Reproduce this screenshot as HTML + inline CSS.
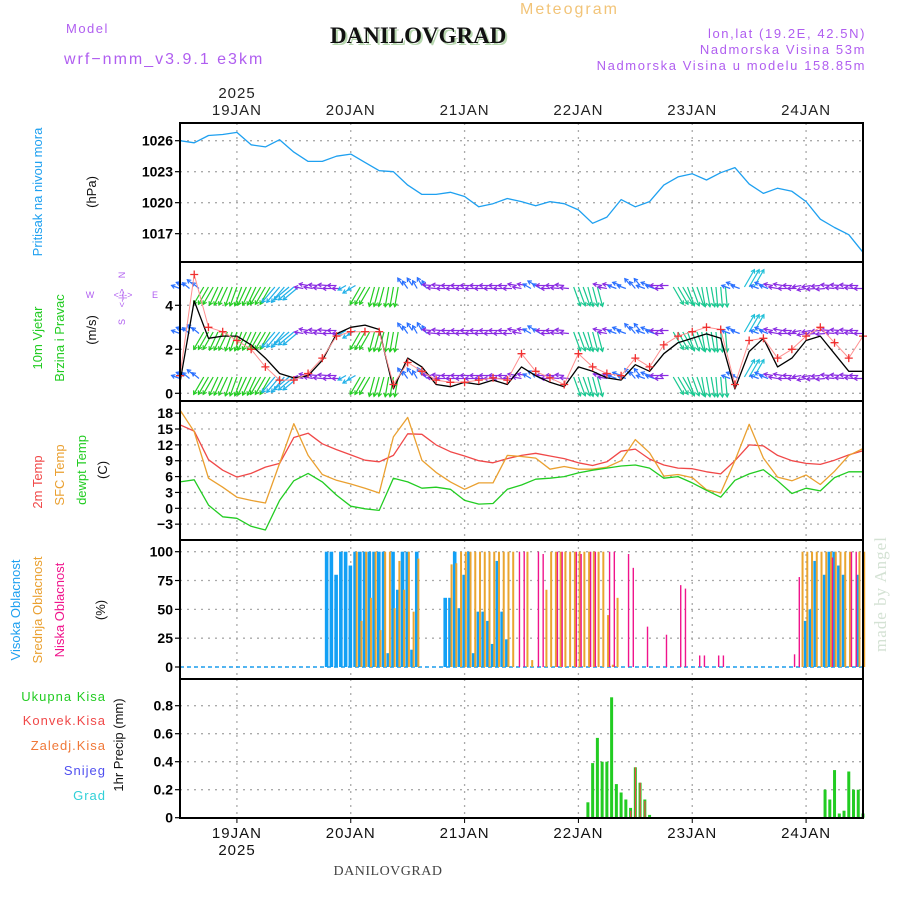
<!DOCTYPE html>
<html><head><meta charset="utf-8"><style>
body{margin:0;background:#fff}
svg text{font-family:"Liberation Sans",sans-serif}
</style></head><body>
<svg id="c" width="900" height="900" viewBox="0 0 900 900" xmlns="http://www.w3.org/2000/svg">
<rect width="900" height="900" fill="#fff"/>
<text x="66" y="33" font-size="13" fill="#b05ef0" letter-spacing="1.5">Model</text>
<text x="64" y="64" font-size="16" fill="#b05ef0" letter-spacing="2">wrf−nmm_v3.9.1 e3km</text>
<text x="332" y="45" style="font-family:'Liberation Serif',serif" font-weight="bold" font-size="23" fill="#b8d8b0">DANILOVGRAD</text>
<text x="330" y="43" style="font-family:'Liberation Serif',serif" font-weight="bold" font-size="23" fill="#111">DANILOVGRAD</text>
<text x="520" y="14" font-size="16" fill="#f2c478" letter-spacing="2">Meteogram</text>
<text x="866" y="38" font-size="13" fill="#b05ef0" text-anchor="end" letter-spacing="1.6">lon,lat (19.2E, 42.5N)</text>
<text x="866" y="54" font-size="13" fill="#b05ef0" text-anchor="end" letter-spacing="1.6">Nadmorska Visina 53m</text>
<text x="866" y="70" font-size="13" fill="#b05ef0" text-anchor="end" letter-spacing="1.6">Nadmorska Visina u modelu 158.85m</text>
<text x="237" y="98" font-size="15" fill="#222" text-anchor="middle" letter-spacing="1">2025</text>
<text x="237" y="855" font-size="15" fill="#111" text-anchor="middle" letter-spacing="1">2025</text>
<text x="388" y="875" style="font-family:'Liberation Serif',serif" font-size="14" fill="#444" text-anchor="middle" letter-spacing="0.5">DANILOVGRAD</text>
<text transform="translate(886,652) rotate(-90)" style="font-family:'Liberation Serif',serif" font-size="17" fill="#d4e2d4" letter-spacing="1">made by Angel</text>
<g font-size="13">
<text transform="translate(42,192) rotate(-90)" fill="#1ea0f0" text-anchor="middle">Pritisak na nivou mora</text>
<text transform="translate(96,192) rotate(-90)" fill="#111" text-anchor="middle">(hPa)</text>
<text transform="translate(42,338) rotate(-90)" fill="#22cc22" text-anchor="middle">10m Vjetar</text>
<text transform="translate(64,338) rotate(-90)" fill="#22cc22" text-anchor="middle">Brzina i Pravac</text>
<text transform="translate(96,330) rotate(-90)" fill="#111" text-anchor="middle">(m/s)</text>
<g fill="#b05ef0" font-size="9" text-anchor="middle">
<text transform="translate(125,275) rotate(-90)">N</text>
<text transform="translate(125,298) rotate(-90)">&lt;-|-&gt;</text>
<text transform="translate(125,322) rotate(-90)">S</text>
<text x="90" y="298">W</text><text x="155" y="298">E</text>
<text x="123" y="298">&lt;-|-&gt;</text>
</g>
<text transform="translate(42,482) rotate(-90)" fill="#f04848" text-anchor="middle">2m Temp</text>
<text transform="translate(64,475) rotate(-90)" fill="#eaa030" text-anchor="middle">SFC Temp</text>
<text transform="translate(86,470) rotate(-90)" fill="#22cc22" text-anchor="middle">dewpt Temp</text>
<text transform="translate(107,470) rotate(-90)" fill="#111" text-anchor="middle">(C)</text>
<text transform="translate(20,610) rotate(-90)" fill="#1ea0f0" text-anchor="middle">Visoka Oblacnost</text>
<text transform="translate(42,610) rotate(-90)" fill="#eaa030" text-anchor="middle">Srednja Oblacnost</text>
<text transform="translate(64,610) rotate(-90)" fill="#f0148c" text-anchor="middle">Niska Oblacnost</text>
<text transform="translate(105,610) rotate(-90)" fill="#111" text-anchor="middle">(%)</text>
<text transform="translate(123,745) rotate(-90)" fill="#111" text-anchor="middle">1hr Precip (mm)</text>
<g text-anchor="end" letter-spacing="1">
<text x="106" y="701" fill="#22cc22">Ukupna Kisa</text>
<text x="106" y="725" fill="#f04848">Konvek.Kisa</text>
<text x="106" y="750" fill="#f07838">Zaledj.Kisa</text>
<text x="106" y="775" fill="#5050f0">Snijeg</text>
<text x="106" y="800" fill="#30d0d8">Grad</text>
</g>
</g>
<g id="g"></g>
</svg>
<script>
const dayLabels=["19JAN","20JAN","21JAN","22JAN","23JAN","24JAN"];
const pressure=[1026.0,1025.8,1026.5,1026.6,1026.8,1025.6,1025.4,1026.1,1024.9,1024.0,1024.0,1024.5,1024.7,1023.9,1023.1,1023.0,1021.7,1020.8,1020.8,1021.0,1020.6,1019.6,1019.9,1020.4,1020.1,1019.7,1020.1,1019.9,1019.3,1018.0,1018.6,1020.3,1019.6,1020.1,1021.7,1022.5,1022.8,1022.2,1022.9,1023.4,1021.8,1020.9,1021.4,1021.1,1020.1,1018.4,1017.6,1016.9,1015.2];
const pressureTicks=[1026,1023,1020,1017];
const windSpeed=[0.5,4.2,2.5,2.6,2.6,2.2,1.6,0.9,0.7,0.8,1.5,2.7,3.0,3.1,2.9,0.2,1.6,1.2,0.4,0.3,0.5,0.4,0.6,0.4,1.2,0.8,0.5,0.3,1.2,1.0,0.7,0.6,1.3,1.0,1.8,2.3,2.5,2.7,2.5,0.2,1.9,2.5,1.2,1.6,2.4,2.6,1.8,1.0,1.0];
const windGust=[0.8,5.4,3.0,2.8,2.4,2.0,1.2,0.6,0.6,0.9,1.6,2.6,2.8,2.8,2.8,0.4,1.4,1.0,0.6,0.5,0.5,0.6,0.7,0.6,1.8,1.0,0.7,0.4,1.8,1.2,0.9,0.8,1.6,1.2,2.2,2.6,2.8,3.0,2.9,0.4,2.4,2.5,1.6,2.0,2.6,3.0,2.3,1.6,2.6];
const windDir=[200,220,120,115,110,115,120,130,140,190,185,180,150,120,105,100,235,240,185,180,180,180,180,180,190,210,180,185,70,75,190,200,230,200,180,60,70,80,85,200,300,200,190,180,170,175,185,185,180];
const windTicks=[0,2,4];
const temp2m=[15.8,14.6,9.2,7.2,5.9,6.6,7.8,8.5,13.4,14.2,12.2,11.1,10.1,9.1,8.8,10.0,14.1,14.0,12.0,10.7,9.9,9.0,8.6,9.4,10.0,10.4,9.9,9.4,8.6,8.1,8.8,10.8,11.2,9.3,8.2,7.6,7.5,6.9,6.5,9.0,12.0,11.8,10.0,9.0,8.5,8.3,9.1,10.1,10.9];
const tempSfc=[18.6,14.5,5.7,4.0,2.1,1.5,1.0,8.5,16.0,10.0,6.4,5.3,4.6,3.8,2.9,13.5,17.2,9.1,6.8,5.0,3.6,4.8,4.8,10.0,9.8,9.5,7.4,7.9,7.4,7.4,7.8,9.0,13.0,10.5,6.1,6.4,5.8,3.5,2.9,9.0,15.9,9.5,5.9,5.2,6.3,4.5,7.0,10.0,11.3];
const tempDew=[5.0,5.4,0.6,-1.6,-1.9,-3.4,-4.1,1.5,5.2,6.6,5.0,2.5,0.4,-0.1,-0.4,5.7,5.0,3.8,4.0,3.6,1.5,0.8,0.9,3.6,4.4,5.5,5.7,6.0,6.7,7.2,7.6,8.0,8.2,7.6,5.7,6.0,4.8,3.4,2.1,5.3,6.5,7.3,5.2,2.8,3.8,3.3,5.8,6.9,6.9];
const tempTicks=[18,15,12,9,6,3,0,-3];
const highHours=[31,32,33,34,35,36,37,38,39,40,41,42,43,44,45,46,47,48,49,50,56,57,58,59,60,61,62,63,64,65,66,67,68,69,132,133,134,136,137,138,139,140,143];
const highVals=[100,100,80,100,100,88,100,100,100,100,100,100,100,12,100,67,100,100,15,100,60,60,100,51,80,100,12,48,48,40,20,92,48,24,40,50,92,80,100,100,88,80,80];
const midHours=[37,38,39,40,41,42,43,44,45,46,47,48,49,50,57,58,59,60,61,62,63,64,65,66,67,68,69,70,73,74,77,78,79,80,81,82,83,84,85,86,87,88,89,90,91,92,131,132,133,134,135,136,137,138,139,140,141,143,144];
const midVals=[100,40,100,60,100,32,100,100,51,92,67,100,48,94,89,90,100,100,100,100,100,100,100,100,100,100,100,100,100,6,67,100,100,100,100,100,100,100,100,100,100,100,100,45,2,60,100,100,100,100,100,100,100,100,100,100,100,100,100];
const lowHours=[71,72,75,76,79,80,83,84,86,87,90,91,94,95,98,102,105,106,109,110,113,114,129,130,137,141,142];
const lowVals=[100,100,100,98,100,100,100,98,100,100,100,100,98,86,35,28,71,68,10,10,10,10,11,78,95,100,100];
const cloudTicks=[100,75,50,25,0];
const precipHours=[86,87,88,89,90,91,92,93,94,95,96,97,98,99,136,137,138,139,140,141,142,143,144];
const precipTotal=[0.11,0.39,0.57,0.40,0.40,0.86,0.24,0.18,0.13,0.07,0.36,0.25,0.13,0.02,0.20,0.13,0.34,0.03,0.05,0.33,0.20,0.20,0.03];
const convHours=[95,96,97,98];
const convVals=[0.05,0.36,0.25,0.12];
const precipTicks=[0.8,0.6,0.4,0.2,0];

const NS="http://www.w3.org/2000/svg";
const G=document.getElementById('g');
const X0=180,X1=863,HOURS=144;
const x=h=>X0+h*(X1-X0)/HOURS;
const yP=v=>140.7+(1026-v)*10.33;
const yW=v=>393.3-v*22;
const yT=v=>508.3-v*5.286;
const yC=v=>667-v*1.153;
const yR=v=>817.7-v*140;
const panels=[[123,262],[262,401],[401,540],[540,679],[679,818]];
function el(t,a){const e=document.createElementNS(NS,t);for(const k in a)e.setAttribute(k,a[k]);G.appendChild(e);return e;}

panels.forEach((p,pi)=>{
  dayLabels.forEach((d,i)=>{
    const l=el('line',{x1:x(12+24*i),x2:x(12+24*i),y1:p[0],y2:p[1],stroke:'#aaa','stroke-width':1.3,'stroke-dasharray':'2,5'});
    
    
  });
});
function hgrid(ticks,f,fmt,name){
  ticks.forEach(t=>{
    const l=el('line',{x1:X0,x2:X1,y1:f(t),y2:f(t),stroke:'#aaa','stroke-width':1.3,'stroke-dasharray':'2,5'});
    
    
    const tk=el('line',{x1:X0-5,x2:X0,y1:f(t),y2:f(t),stroke:'#000','stroke-width':1.2});
    
    
    const tx=el('text',{x:X0-7,y:f(t)+5,'font-size':14,'text-anchor':'end',fill:'#000','font-weight':'bold'});
    tx.textContent=fmt(t);
    
    
  });
}
hgrid(pressureTicks,yP,String,'pressure');
hgrid(windTicks,yW,String,'wind');
hgrid(tempTicks,yT,t=>t<0?'−'+(-t):String(t),'temp');
hgrid(cloudTicks,yC,String,'cloud');
hgrid(precipTicks,yR,String,'precip');

dayLabels.forEach((d,i)=>{
  const t1=el('text',{x:x(12+24*i),y:115,'font-size':15,'text-anchor':'middle',fill:'#222','letter-spacing':1});
  t1.textContent=d;
  
  
  const t2=el('text',{x:x(12+24*i),y:838,'font-size':15,'text-anchor':'middle',fill:'#111','letter-spacing':1});
  t2.textContent=d;
  
  
  const tk=el('line',{x1:x(12+24*i),x2:x(12+24*i),y1:818,y2:823,stroke:'#000'});
  
  
});

function line(arr,f,color,name,w){
  const pts=arr.map((v,i)=>x(i*3).toFixed(1)+','+f(v).toFixed(1)).join(' ');
  const p=el('polyline',{points:pts,fill:'none',stroke:color,'stroke-width':w||1.3,'stroke-linejoin':'round'});
  
  
}
line(pressure,yP,'#1ea0f0','pressure-line');

function dirColor(a){
  if(a>=55&&a<100)return '#18c890';
  if(a>=100&&a<128)return '#22cc22';
  if(a>=128&&a<160)return '#20b0e8';
  if(a>=160&&a<=198)return '#8a2be2';
  if(a>198&&a<260)return '#2a70ff';
  return '#20c0d8';
}
[287,332,377].forEach((ry,ri)=>{
  for(let h=0;h<=HOURS;h++){
    const a=windDir[Math.round(h/3)];
    const long=(a>=55&&a<150)||a>=260;
    const L=long?20:9;
    const r=a*Math.PI/180;
    const x1=x(h),y1=ry+(long?0:((h%2)?-1.5:1.5));
    const x2=x1+L*Math.cos(r),y2=y1+L*Math.sin(r);
    const c=dirColor(a);
    const ln=el('line',{x1:x1,y1:y1,x2:x2,y2:y2,stroke:c,'stroke-width':1.2});
    
    
    const hd=el('polyline',{points:`${x2+4*Math.cos(r+2.6)},${y2+4*Math.sin(r+2.6)} ${x2},${y2} ${x2+4*Math.cos(r-2.6)},${y2+4*Math.sin(r-2.6)}`,fill:'none',stroke:c,'stroke-width':1.2});
    
    
  }
});
line(windSpeed,yW,'#000','wind-speed-line',1.3);
line(windGust,yW,'#ff9090','wind-gust-line',1);
windGust.forEach((v,i)=>{
  const cx=x(i*3),cy=yW(v);
  const p=el('path',{d:`M${cx-4},${cy}H${cx+4}M${cx},${cy-4}V${cy+4}`,stroke:'#f03030','stroke-width':1.3});
  
  
});

line(temp2m,yT,'#f04848','temp-2m-line');
line(tempSfc,yT,'#eaa030','temp-sfc-line');
line(tempDew,yT,'#22cc22','dewpoint-line');

const cb=el('line',{x1:X0,x2:X1,y1:yC(0),y2:yC(0),stroke:'#1ea0f0','stroke-width':1.5,'stroke-dasharray':'4,3'});


highHours.forEach((h,i)=>{
  const r=el('rect',{x:x(h)-2.2,y:yC(highVals[i]),width:3.6,height:yC(0)-yC(highVals[i]),fill:'#12a0f5'});
  
  
});
midHours.forEach((h,i)=>{
  const r=el('rect',{x:x(h)+0.2,y:yC(midVals[i]),width:2,height:yC(0)-yC(midVals[i]),fill:'#eaa530'});
  
  
});
lowHours.forEach((h,i)=>{
  const r=el('rect',{x:x(h)+2,y:yC(lowVals[i]),width:1.4,height:yC(0)-yC(lowVals[i]),fill:'#f0148c'});
  
  
});

precipHours.forEach((h,i)=>{
  const r=el('rect',{x:x(h)-1.5,y:yR(precipTotal[i]),width:3,height:yR(0)-yR(precipTotal[i]),fill:'#22cc22'});
  
  
});
convHours.forEach((h,i)=>{
  const r=el('rect',{x:x(h)-0.5,y:yR(convVals[i]),width:1.2,height:yR(0)-yR(convVals[i]),fill:'#f04848'});
  
  
});
const pb=el('line',{x1:X0,x2:X1,y1:818,y2:818,stroke:'#000','stroke-width':2,'stroke-dasharray':'6,2'});



panels.forEach((p,i)=>{
  const r=el('rect',{x:X0,y:p[0],width:X1-X0,height:p[1]-p[0],fill:'none',stroke:'#000','stroke-width':2});
  
  
});
</script>
</body></html>
